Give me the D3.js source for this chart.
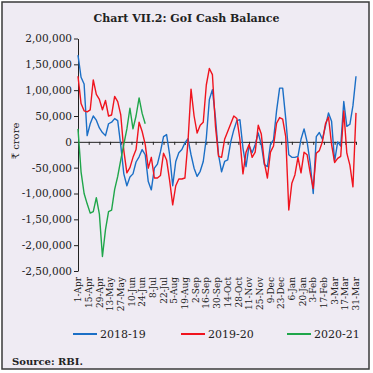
<!DOCTYPE html>
<html>
<head>
<meta charset="utf-8">
<script src="https://cdn.jsdelivr.net/npm/d3@7"></script>
<style>
  html, body { margin: 0; padding: 0; background: #fff; }
  svg { display: block; }
  text { font-family: "DejaVu Serif", serif; fill: #222; }
</style>
</head>
<body>
<svg id="chart" width="373" height="373"></svg>
<script>
// values in ₹ crore, one reading every 4 days from 1-Apr
const days = d3.range(92).map((i) => i * 4);

const cash1819 = [
  168000, 125000, 112000, 12000, 35000, 50000, 42000, 27000, 18000, 12000,
  35000, 38000, 45000, 41000, -7000, -62000, -85000, -68000, -62000, -39000,
  -29000, -15000, -25000, -77000, -93000, -51000, -43000, -19000, 10000, 14000,
  -25000, -85000, -38000, -21000, -15000, -2000, 6000, -25000, -51000, -67000,
  -57000, -38000, 7000, 82000, 101000, 46000, -25000, -58000, -38000, -35000,
  0, 23000, 41000, 43000, -12000, -48000, -7000, -21000, -5000, 17000,
  -5000, -44000, -48000, -5000, 4000, 60000, 104000, 104000, 45000, -25000,
  -30000, -30000, -28000, 5000, 25000, 0, -41000, -100000, 10000, 18000,
  5000, 30000, 56000, 40000, -38000, 0, -8000, 78000, 30000, 34000,
  70000, 127000
];

const cash1920 = [
  127000, 74000, 60000, 58000, 62000, 120000, 92000, 82000, 62000, 80000,
  50000, 52000, 88000, 78000, 52000, -17000, -60000, -50000, -30000, -15000,
  38000, 20000, -5000, -51000, -30000, -70000, -70000, -65000, -22000, -35000,
  -75000, -122000, -85000, -72000, -72000, -70000, 0, 102000, 50000, 17000,
  32000, 38000, 110000, 142000, 130000, 30000, -28000, -30000, 5000, 20000,
  35000, 50000, 45000, 5000, -62000, -20000, -5000, -30000, -20000, 32000,
  15000, -40000, -70000, -20000, -8000, 36000, 47000, 44000, 10000, -132000,
  -80000, -64000, -30000, -60000, -20000, -25000, -60000, -90000, -22000, -17000,
  0, 35000, 48000, -5000, -40000, -32000, -28000, 60000, -22000, -45000,
  -87000, 56000
];

const cash2021 = [
  25000, -58000, -100000, -120000, -138000, -135000, -108000, -140000, -222000, -170000,
  -135000, -132000, -92000, -67000, -35000, -5000, 25000, 65000, 25000, 50000,
  85000, 55000, 35000
];

const seriesNames = ["2018-19", "2019-20", "2020-21"];
const seriesColors = ["#1b6fc6", "#f0141e", "#1fa64a"];

const xLabels = [
  "1-Apr", "15-Apr", "29-Apr", "13-May", "27-May", "10-Jun", "24-Jun", "8-Jul", "22-Jul",
  "5-Aug", "19-Aug", "2-Sep", "16-Sep", "30-Sep", "14-Oct", "28-Oct", "11-Nov", "25-Nov",
  "9-Dec", "23-Dec", "6-Jan", "20-Jan", "3-Feb", "17-Feb", "3-Mar", "17-Mar", "31-Mar"
];
const yTicks = [200000, 150000, 100000, 50000, 0, -50000, -100000, -150000, -200000, -250000];

// Indian digit grouping: 2,00,000
const inr = (v) => {
  const s = String(Math.abs(v));
  let out = s;
  if (s.length > 3) {
    const rest = s.slice(0, -3).replace(/\B(?=(\d{2})+(?!\d))/g, ",");
    out = rest + "," + s.slice(-3);
  }
  return (v < 0 ? "-" : "") + out;
};

const svg = d3.select("#chart");

svg.append("rect")
  .attr("x", 2).attr("y", 2)
  .attr("width", 367).attr("height", 367)
  .attr("fill", "#efebf3")
  .attr("stroke", "#3a3a3a")
  .attr("stroke-width", 1.5);

svg.append("text")
  .attr("x", 186.5).attr("y", 22)
  .attr("text-anchor", "middle")
  .attr("font-size", "11px")
  .attr("font-weight", "bold")
  .text("Chart VII.2: GoI Cash Balance");

const x = d3.scaleLinear().domain([0, 364]).range([78, 356]);
const y = d3.scaleLinear().domain([-250000, 200000]).range([271, 38.5]);

svg.append("g")
  .attr("transform", `translate(${x(0)},0)`)
  .call(d3.axisLeft(y).tickValues(yTicks).tickSize(4).tickSizeOuter(0).tickFormat(inr))
  .call((g) => g.selectAll("path, line").attr("stroke", "#222"))
  .call((g) => g.selectAll("text")
    .attr("font-family", "DejaVu Serif, serif")
    .attr("font-size", "10.5px")
    .attr("fill", "#222")
    .attr("x", -6));

const labelDays = xLabels.map((_, i) => i * 14);

svg.append("g")
  .attr("transform", `translate(0,${y(0)})`)
  .call(d3.axisBottom(x).tickValues(labelDays).tickSize(3).tickSizeOuter(0).tickFormat(""))
  .call((g) => g.selectAll("path, line").attr("stroke", "#222"));

svg.append("g")
  .selectAll("text")
  .data(xLabels)
  .join("text")
  .attr("transform", (d, i) => `translate(${x(labelDays[i])},277) rotate(-90)`)
  .attr("text-anchor", "end")
  .attr("dy", "0.35em")
  .attr("font-size", "9px")
  .text((d) => d);

svg.append("text")
  .attr("transform", "translate(19,141) rotate(-90)")
  .attr("text-anchor", "middle")
  .attr("font-size", "10px")
  .text("₹ crore");

const line = d3.line()
  .x((d, i) => x(days[i]))
  .y((d) => y(d));

[cash1819, cash1920, cash2021].forEach((values, k) => {
  svg.append("path")
    .datum(values)
    .attr("fill", "none")
    .attr("stroke", seriesColors[k])
    .attr("stroke-width", 1.4)
    .attr("stroke-linejoin", "round")
    .attr("d", line);
});

const legendX = [73, 181, 287];
const legend = svg.append("g")
  .selectAll("g")
  .data(seriesNames)
  .join("g")
  .attr("transform", (d, i) => `translate(${legendX[i]},334)`);

legend.append("line")
  .attr("x1", 0).attr("x2", 24)
  .attr("stroke", (d, i) => seriesColors[i])
  .attr("stroke-width", 2);

legend.append("text")
  .attr("x", 27).attr("y", 4)
  .attr("font-size", "11px")
  .text((d) => d);

svg.append("text")
  .attr("x", 12).attr("y", 365)
  .attr("font-size", "10px")
  .attr("font-weight", "bold")
  .text("Source: RBI.");
</script>
</body>
</html>
